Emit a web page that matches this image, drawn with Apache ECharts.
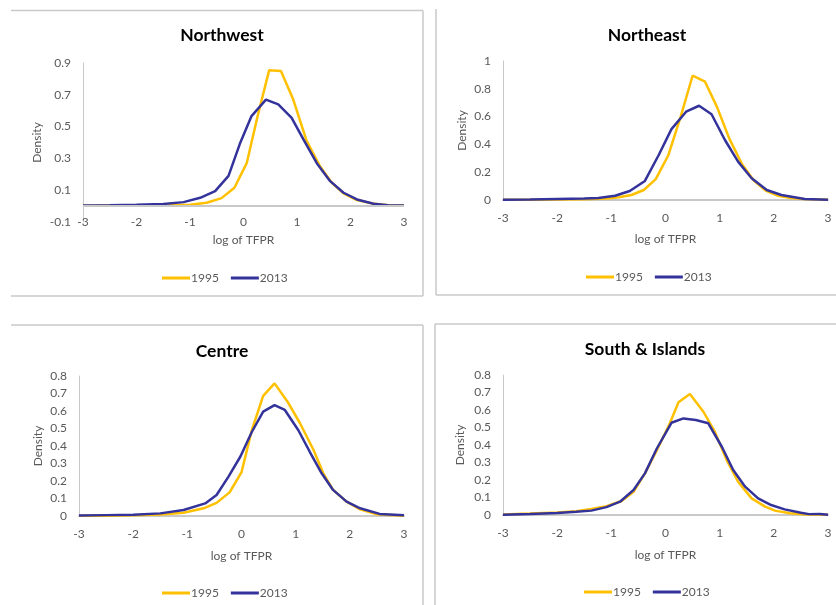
<!DOCTYPE html>
<html>
<head>
    <meta charset="utf-8">
    <title>TFPR density</title>
    <script src="https://cdn.jsdelivr.net/npm/echarts@6.0.0/dist/echarts.min.js"></script>
    <style>
        html, body {margin: 0; padding: 0; background: #fff;}
        #main {width: 836px; height: 605px;}
    </style>
</head>
<body>
<div id="main"></div>
<script type="text/javascript">
    // log of TFPR (x) and density (y)
    var nwX1995 = [-3, -2.5, -2, -1.5, -1.0, -0.69, -0.41, -0.17, 0.06, 0.26, 0.48, 0.70, 0.93, 1.18, 1.43, 1.65, 1.87, 2.12, 2.40, 2.7, 3];
    var nwY1995 = [0.002, 0.003, 0.004, 0.005, 0.008, 0.021, 0.05, 0.115, 0.27, 0.56, 0.855, 0.85, 0.67, 0.41, 0.25, 0.147, 0.08, 0.038, 0.017, 0.006, 0.003];
    var nwX2013 = [-3, -2.5, -2, -1.5, -1.12, -0.81, -0.53, -0.28, -0.07, 0.15, 0.42, 0.65, 0.90, 1.12, 1.37, 1.62, 1.87, 2.12, 2.43, 2.7, 3];
    var nwY2013 = [0.003, 0.005, 0.008, 0.013, 0.025, 0.052, 0.094, 0.19, 0.39, 0.566, 0.67, 0.64, 0.555, 0.42, 0.27, 0.157, 0.084, 0.042, 0.015, 0.006, 0.003];

    var neX1995 = [-3, -2.5, -2, -1.5, -1.08, -0.86, -0.63, -0.40, -0.18, 0.05, 0.28, 0.50, 0.73, 0.95, 1.18, 1.41, 1.63, 1.86, 2.08, 2.31, 2.54, 3];
    var neY1995 = [0.001, 0.002, 0.003, 0.005, 0.01, 0.02, 0.036, 0.072, 0.15, 0.32, 0.6, 0.894, 0.851, 0.67, 0.44, 0.26, 0.14, 0.065, 0.03, 0.015, 0.007, 0.002];
    var neX2013 = [-3, -2.5, -2, -1.5, -1.24, -0.93, -0.66, -0.38, -0.13, 0.11, 0.38, 0.62, 0.85, 1.10, 1.34, 1.59, 1.87, 2.14, 2.57, 3];
    var neY2013 = [0.002, 0.004, 0.007, 0.01, 0.014, 0.031, 0.065, 0.137, 0.32, 0.51, 0.635, 0.678, 0.617, 0.43, 0.276, 0.156, 0.072, 0.036, 0.007, 0.002];

    var ceX1995 = [-3, -2.5, -2, -1.5, -1.07, -0.70, -0.46, -0.22, 0.0, 0.19, 0.40, 0.61, 0.85, 1.08, 1.33, 1.51, 1.69, 1.94, 2.19, 2.5, 3];
    var ceY1995 = [0.002, 0.001, 0.004, 0.008, 0.019, 0.044, 0.075, 0.135, 0.25, 0.49, 0.686, 0.758, 0.653, 0.53, 0.377, 0.244, 0.149, 0.082, 0.038, 0.01, 0.002];
    var ceX2013 = [-3, -2.5, -2, -1.5, -1.07, -0.67, -0.46, -0.24, -0.02, 0.19, 0.40, 0.61, 0.80, 1.05, 1.26, 1.48, 1.69, 1.94, 2.19, 2.55, 3];
    var ceY2013 = [0.003, 0.005, 0.007, 0.015, 0.034, 0.072, 0.12, 0.225, 0.34, 0.48, 0.596, 0.634, 0.606, 0.49, 0.367, 0.244, 0.149, 0.082, 0.044, 0.012, 0.004];

    var siX1995 = [-3, -2.5, -2, -1.65, -1.37, -1.09, -0.81, -0.59, -0.38, -0.16, 0.08, 0.24, 0.45, 0.70, 0.91, 1.13, 1.34, 1.59, 1.84, 2.02, 2.3, 2.6, 3];
    var siY1995 = [0.003, 0.008, 0.014, 0.022, 0.034, 0.05, 0.08, 0.133, 0.238, 0.37, 0.524, 0.644, 0.691, 0.59, 0.476, 0.314, 0.19, 0.095, 0.048, 0.025, 0.01, 0.003, 0.001];
    var siX2013 = [-3, -2.5, -2, -1.65, -1.37, -1.09, -0.84, -0.59, -0.38, -0.16, 0.11, 0.33, 0.56, 0.79, 1.04, 1.25, 1.47, 1.71, 1.95, 2.2, 2.5, 2.65, 2.85, 3];
    var siY2013 = [0.002, 0.006, 0.012, 0.018, 0.025, 0.045, 0.076, 0.143, 0.238, 0.38, 0.527, 0.552, 0.543, 0.524, 0.39, 0.257, 0.162, 0.095, 0.057, 0.032, 0.013, 0.005, 0.006, 0.002];

    var panelTitles = ['Northwest', 'Northeast', 'Centre', 'South & Islands'];
    var seriesNames = ['1995', '2013'];

    var yellow = '#FFC000';
    var blue = '#33339B';
    var font = 'Lato, "Open Sans", sans-serif';
    var gray = '#595959';
    var lineGray = '#C9C9C9';

    function pairs(xs, ys) {
        var out = [];
        for (var i = 0; i < xs.length; i++) out.push([xs[i], ys[i]]);
        return out;
    }

    // layout of the 4 panels (pixels)
    var panels = [
        {grid: {left: 83, right: 432, top: 63, bottom: 383}, yMin: -0.1, yMax: 0.9, yStep: 0.2, titleX: 217, titleY: 21, legendX: 157, legendY: 267, xLabelMargin: 0, nameGap: 12, yNameGap: 40,
            d1995: pairs(nwX1995, nwY1995), d2013: pairs(nwX2013, nwY2013)},
        {grid: {left: 503, right: 8, top: 61, bottom: 405}, yMin: 0, yMax: 1, yStep: 0.2, titleX: 642, titleY: 21, legendX: 581, legendY: 266, xLabelMargin: 18, nameGap: 33, yNameGap: 35,
            d1995: pairs(neX1995, neY1995), d2013: pairs(neX2013, neY2013)},
        {grid: {left: 79, right: 432, top: 376, bottom: 89}, yMin: 0, yMax: 0.8, yStep: 0.1, titleX: 217, titleY: 337, legendX: 157, legendY: 582, xLabelMargin: 18, nameGap: 34, yNameGap: 35,
            d1995: pairs(ceX1995, ceY1995), d2013: pairs(ceX2013, ceY2013)},
        {grid: {left: 503, right: 8, top: 375, bottom: 90}, yMin: 0, yMax: 0.8, yStep: 0.1, titleX: 640, titleY: 335, legendX: 579, legendY: 581, xLabelMargin: 18, nameGap: 34, yNameGap: 37,
            d1995: pairs(siX1995, siY1995), d2013: pairs(siX2013, siY2013)}
    ];

    var option = {
        animation: false,
        backgroundColor: '#fff',
        textStyle: {fontFamily: font},
        title: [], legend: [], grid: [], xAxis: [], yAxis: [], series: [],
        graphic: []
    };

    panels.forEach(function (p, i) {
        option.title.push({
            text: panelTitles[i], left: p.titleX, top: p.titleY, textAlign: 'center',
            textStyle: {fontFamily: font, fontSize: 17.5, fontWeight: 'bold', color: '#000'}
        });
        option.legend.push({
            data: seriesNames, left: p.legendX, top: p.legendY, icon: 'rect',
            itemWidth: 28, itemHeight: 3, itemGap: 12,
            textStyle: {fontFamily: font, fontSize: 12, color: gray, padding: [0, 0, 0, -4]}
        });
        option.grid.push(p.grid);
        option.xAxis.push({
            type: 'value', gridIndex: i, min: -3, max: 3, interval: 1,
            name: 'log of TFPR', nameLocation: 'middle', nameGap: p.nameGap,
            nameTextStyle: {fontFamily: font, fontSize: 12, color: gray},
            axisLine: {show: i !== 0, onZero: false, lineStyle: {color: lineGray, width: 2}},
            axisTick: {show: false},
            axisLabel: {fontFamily: font, fontSize: 12, color: gray, margin: p.xLabelMargin, verticalAlign: 'middle'},
            splitLine: {show: false}
        });
        option.yAxis.push({
            type: 'value', gridIndex: i, min: p.yMin, max: p.yMax, interval: p.yStep,
            name: 'Density', nameLocation: 'middle', nameGap: p.yNameGap,
            nameTextStyle: {fontFamily: font, fontSize: 12, color: gray},
            axisLine: {show: true, onZero: false, lineStyle: {color: lineGray, width: 1}},
            axisTick: {show: false},
            axisLabel: {fontFamily: font, fontSize: 12, color: gray, margin: 12},
            splitLine: {show: false}
        });
        var s1995 = {
            name: '1995', type: 'line', xAxisIndex: i, yAxisIndex: i, data: p.d1995,
            showSymbol: false, symbol: 'none', color: yellow,
            lineStyle: {color: yellow, width: 2.5}
        };
        if (i === 0) {
            // horizontal axis crosses at 0, labels stay at the bottom
            s1995.markLine = {
                silent: true, symbol: 'none', label: {show: false},
                lineStyle: {color: lineGray, width: 2, type: 'solid'},
                data: [{yAxis: 0}]
            };
        }
        option.series.push(s1995);
        option.series.push({
            name: '2013', type: 'line', xAxisIndex: i, yAxisIndex: i, data: p.d2013,
            showSymbol: false, symbol: 'none', color: blue,
            lineStyle: {color: blue, width: 2.5}
        });
    });

    // panel frames
    var frames = [
        [11, 10.5, 423, 10.5], [11, 296, 423, 296], [423, 10.5, 423, 296],
        [436, 9, 436, 295], [436, 295, 836, 295],
        [11, 325, 423, 325], [423, 325, 423, 605],
        [435, 324, 836, 324], [435, 324, 435, 605]
    ];
    frames.forEach(function (f) {
        option.graphic.push({
            type: 'line', silent: true,
            shape: {x1: f[0], y1: f[1], x2: f[2], y2: f[3]},
            style: {stroke: lineGray, lineWidth: 1.5}
        });
    });

    var myChart = echarts.init(document.getElementById('main'));
    myChart.setOption(option);
</script>
</body>
</html>
